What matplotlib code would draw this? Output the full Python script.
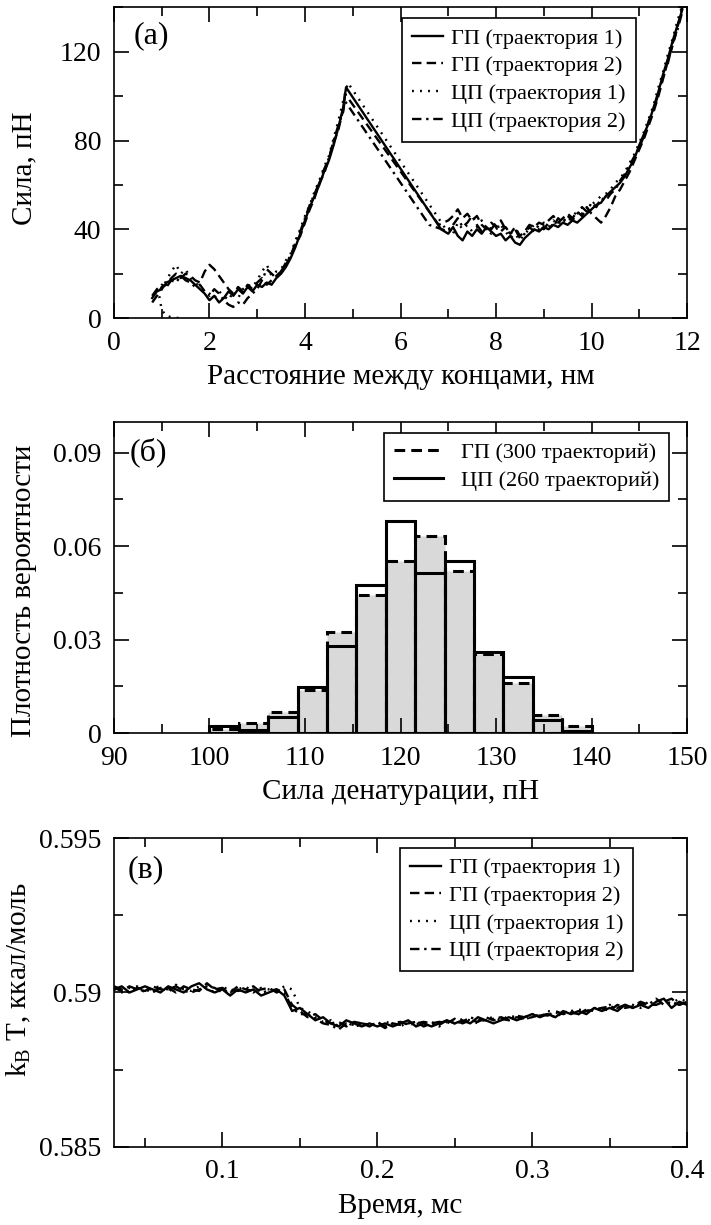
import matplotlib
matplotlib.use('Agg')
import matplotlib.pyplot as plt
from matplotlib.lines import Line2D
from matplotlib.ticker import MultipleLocator, FormatStrFormatter
import numpy as np

plt.rcParams['font.family'] = ['Liberation Serif', 'DejaVu Serif']
plt.rcParams['mathtext.fontset'] = 'custom'
plt.rcParams['mathtext.rm'] = 'Liberation Serif'
plt.rcParams['mathtext.it'] = 'Liberation Serif:italic'

# ---------- panel (a): force vs end-to-end distance ----------
x_pre = [0.8, 0.9, 1.0, 1.1, 1.2, 1.3, 1.4, 1.5, 1.6, 1.7, 1.8, 1.9, 2.0, 2.1,
         2.2, 2.3, 2.4, 2.5, 2.6, 2.7, 2.8, 2.9, 3.0, 3.1, 3.2, 3.3, 3.4, 3.5,
         3.6, 3.7, 3.8, 3.9, 4.0, 4.1, 4.2, 4.3, 4.4, 4.5, 4.6, 4.7, 4.8]
x_post = [7.0, 7.1, 7.2, 7.3, 7.4, 7.5, 7.6, 7.7, 7.8, 7.9,
          8.0, 8.1, 8.2, 8.3, 8.4, 8.5, 8.6, 8.7, 8.8, 8.9,
          9.0, 9.1, 9.2, 9.3, 9.4, 9.5, 9.6, 9.7, 9.8, 9.9,
          10.0, 10.1, 10.2, 10.3, 10.4, 10.5, 10.6, 10.7, 10.8, 10.9,
          11.0, 11.1, 11.2, 11.3, 11.4, 11.5, 11.6, 11.7, 11.8, 11.9]

gp1_pre = [9, 12, 13, 16, 17, 18, 19, 18, 17, 15, 13, 11, 8, 10, 7, 9, 12, 10, 13, 11,
           14, 12, 15, 14, 16, 15, 18, 20, 23, 27, 32, 38, 44, 50, 55, 60, 66, 71, 78, 86, 95]
gp1_peak = (4.86, 104)
gp1_land = (6.85, 40)
gp1_post = [38, 41, 37, 35, 39, 37, 40, 38, 41, 39,
            37, 38, 35, 37, 34, 33, 36, 38, 40, 39,
            41, 40, 42, 41, 43, 42, 44, 43, 45, 47,
            49, 51, 52, 55, 57, 59, 61, 64, 68, 72,
            78, 83, 88, 95, 102, 110, 117, 125, 132, 139]

gp2_pre = [7, 10, 14, 15, 18, 20, 18, 20, 19, 17, 16, 21, 24, 22, 19, 16, 13, 11, 14, 12,
           15, 13, 16, 18, 15, 17, 19, 21, 24, 28, 33, 37, 43, 49, 54, 61, 65, 72, 79, 85, 94]
gp2_peak = (4.84, 101)
gp2_land = (6.8, 42)
gp2_post = [44, 46, 49, 45, 47, 44, 46, 42, 40, 43,
            41, 44, 40, 38, 41, 37, 39, 42, 41, 43,
            42, 44, 46, 43, 45, 47, 45, 48, 46, 50,
            47, 45, 43, 46, 50, 55, 58, 62, 66, 71,
            76, 81, 87, 93, 100, 108, 116, 123, 131, 140]

cp1_head_x = [1.35, 1.22, 1.08, 1.0, 0.95]
cp1_head_y = [0, 0.3, 1, 4, 9]
cp1_pre = [np.nan, np.nan, 13, 17, 21, 24, 20, 22, 18, 16, 14, 12, 11, 9, 12, 10, 8, 12, 9, 13,
           15, 14, 17, 21, 24, 19, 21, 22, 26, 29, 35, 40, 46, 51, 57, 62, 68, 73, 81, 89, 98]
cp1_peak = (4.9, 106)
cp1_land = (6.95, 40)
cp1_post = [41, 38, 43, 40, 42, 39, 41, 44, 40, 38,
            40, 42, 39, 36, 38, 35, 38, 40, 42, 40,
            43, 41, 44, 42, 45, 43, 46, 48, 47, 49,
            51, 53, 55, 56, 58, 61, 63, 66, 70, 74,
            79, 84, 90, 96, 104, 111, 119, 126, 134, 141]

cp2_pre = [10, 13, 15, 14, 17, 16, 19, 17, 16, 14, 15, 12, 10, 13, 11, 8, 6, 5, 7, 6,
           9, 11, 13, 17, 22, 20, 18, 21, 25, 28, 34, 39, 45, 51, 56, 61, 67, 72, 80, 87, 93]
cp2_peak = (4.83, 98)
cp2_land = (6.6, 42)
cp2_post = [39, 42, 45, 41, 43, 46, 42, 39, 42, 40,
            43, 39, 41, 38, 40, 36, 38, 41, 39, 42,
            40, 43, 41, 45, 43, 46, 44, 47, 50, 48,
            52, 50, 54, 53, 56, 58, 62, 65, 69, 73,
            77, 82, 89, 94, 101, 109, 115, 124, 130, 138]

# ---------- panel (б): histograms of denaturation force ----------
bin_edges = [100.0, 103.08, 106.15, 109.23, 112.31, 115.38, 118.46,
             121.54, 124.62, 127.69, 130.77, 133.85, 136.92, 140.0]
hist_gp = [0.0012, 0.0033, 0.0069, 0.0139, 0.0325, 0.0442, 0.0553,
           0.0633, 0.0520, 0.0253, 0.0160, 0.0058, 0.0023]
hist_cp = [0.0022, 0.0010, 0.0050, 0.0147, 0.0280, 0.0475, 0.0681,
           0.0513, 0.0553, 0.0260, 0.0180, 0.0042, 0.0008]

# ---------- panel (в): kBT vs time ----------
t_ms = [0.030, 0.035, 0.040, 0.045, 0.050, 0.055, 0.060, 0.065, 0.070, 0.075,
        0.080, 0.085, 0.090, 0.095, 0.100, 0.105, 0.110, 0.115, 0.120, 0.125,
        0.130, 0.135, 0.140, 0.145, 0.150, 0.155, 0.160, 0.165, 0.170, 0.175,
        0.180, 0.185, 0.190, 0.195, 0.200, 0.205, 0.210, 0.215, 0.220, 0.225,
        0.230, 0.235, 0.240, 0.245, 0.250, 0.255, 0.260, 0.265, 0.270, 0.275,
        0.280, 0.285, 0.290, 0.295, 0.300, 0.305, 0.310, 0.315, 0.320, 0.325,
        0.330, 0.335, 0.340, 0.345, 0.350, 0.355, 0.360, 0.365, 0.370, 0.375,
        0.380, 0.385, 0.390, 0.395, 0.400]
kt_gp1 = [0.5901, 0.5902, 0.5900, 0.5901, 0.5902, 0.5901, 0.5900, 0.5902, 0.5901, 0.5900,
          0.5902, 0.5903, 0.5901, 0.5900, 0.5901, 0.5899, 0.5901, 0.5900, 0.5901, 0.5899,
          0.5900, 0.5901, 0.5899, 0.5894, 0.5895, 0.5893, 0.5891, 0.5892, 0.5890, 0.5889,
          0.5891, 0.5890, 0.5889, 0.5890, 0.5889, 0.5890, 0.5889, 0.5890, 0.5891, 0.5889,
          0.5890, 0.5889, 0.5890, 0.5891, 0.5890, 0.5891, 0.5890, 0.5892, 0.5891, 0.5890,
          0.5891, 0.5892, 0.5891, 0.5892, 0.5893, 0.5892, 0.5893, 0.5892, 0.5894, 0.5893,
          0.5894, 0.5893, 0.5895, 0.5894, 0.5895, 0.5894, 0.5896, 0.5895, 0.5896, 0.5895,
          0.5897, 0.5898, 0.5895, 0.5897, 0.5896]
kt_gp2 = [0.59015, 0.59005, 0.5902, 0.5901, 0.59005, 0.5902, 0.5901, 0.59015, 0.5900, 0.5902,
          0.5901, 0.59005, 0.5903, 0.5901, 0.59015, 0.5900, 0.5902, 0.5901, 0.59005, 0.5901,
          0.59015, 0.5900, 0.5901, 0.5896, 0.5894, 0.5892, 0.5893, 0.5891, 0.5890, 0.58905,
          0.5889, 0.58905, 0.5890, 0.5889, 0.58905, 0.5889, 0.5890, 0.58895, 0.5890, 0.58905,
          0.5889, 0.5890, 0.58905, 0.5890, 0.58915, 0.5890, 0.5891, 0.58905, 0.5892, 0.5891,
          0.58915, 0.5891, 0.5892, 0.58915, 0.5892, 0.5893, 0.58925, 0.5894, 0.5893, 0.58935,
          0.5893, 0.5894, 0.58945, 0.5895, 0.5894, 0.5896, 0.5895, 0.58955, 0.5897, 0.5896,
          0.5896, 0.5897, 0.5898, 0.5896, 0.5897]
kt_cp1 = [0.5901, 0.5900, 0.59015, 0.5902, 0.5900, 0.59015, 0.5902, 0.5900, 0.59025, 0.5901,
          0.59005, 0.5902, 0.59015, 0.5900, 0.5902, 0.59005, 0.5901, 0.5902, 0.5900, 0.59015,
          0.5901, 0.59005, 0.5902, 0.5901, 0.5895, 0.5894, 0.5892, 0.58905, 0.5891, 0.5889,
          0.58905, 0.5889, 0.58895, 0.5890, 0.5889, 0.58905, 0.5890, 0.5889, 0.58905, 0.5890,
          0.58895, 0.58905, 0.5889, 0.58905, 0.5890, 0.58915, 0.5891, 0.5890, 0.58915, 0.5892,
          0.5891, 0.58925, 0.5892, 0.5891, 0.58925, 0.5892, 0.5894, 0.58935, 0.5893, 0.5894,
          0.58945, 0.5894, 0.5895, 0.58945, 0.5896, 0.5895, 0.58955, 0.5896, 0.5895, 0.5897,
          0.5896, 0.5897, 0.58965, 0.5898, 0.5897]
kt_cp2 = [0.5902, 0.5901, 0.5900, 0.59015, 0.5901, 0.5900, 0.59015, 0.5901, 0.5902, 0.59005,
          0.5900, 0.5901, 0.5902, 0.59015, 0.5900, 0.5901, 0.59005, 0.5901, 0.5902, 0.5900,
          0.59005, 0.5901, 0.5900, 0.5895, 0.5893, 0.5893, 0.58915, 0.5890, 0.58895, 0.5888,
          0.5890, 0.58895, 0.5890, 0.58895, 0.5890, 0.58885, 0.5890, 0.58905, 0.58895, 0.5890,
          0.58905, 0.5890, 0.58895, 0.5891, 0.5890, 0.58905, 0.5892, 0.5891, 0.5891, 0.58915,
          0.5892, 0.5891, 0.58925, 0.5892, 0.5893, 0.58925, 0.5893, 0.5892, 0.58935, 0.5894,
          0.5893, 0.58945, 0.5894, 0.5895, 0.58955, 0.5895, 0.5896, 0.5895, 0.58965, 0.5896,
          0.5898, 0.5896, 0.5897, 0.5896, 0.5897]

traj_labels = ['ГП (траектория 1)', 'ГП (траектория 2)',
               'ЦП (траектория 1)', 'ЦП (траектория 2)']
styles = ['-', (0, (4, 2.2)), (0, (0.8, 2.6)), (0, (4, 2, 1, 2))]

fig = plt.figure(figsize=(7.11, 12.25), dpi=100)
ax_a = fig.add_axes([0.1603, 0.7404, 0.806, 0.2535])
ax_b = fig.add_axes([0.1603, 0.4016, 0.806, 0.2542])
ax_c = fig.add_axes([0.1603, 0.0637, 0.806, 0.2522])


def style_axes(ax):
    for s in ax.spines.values():
        s.set_linewidth(1.2)
    ax.tick_params(which='both', direction='in', top=True, right=True,
                   labelsize=20, width=1.2, pad=9)
    ax.tick_params(which='major', length=11)
    ax.tick_params(which='minor', length=6.5)


def join(pre, peak, land, post, head_x=None, head_y=None):
    xs = list(x_pre) + [peak[0], land[0]] + list(x_post)
    ys = list(pre) + [peak[1], land[1]] + list(post)
    if head_x is not None:
        xs = list(head_x) + xs
        ys = list(head_y) + ys
    xs = np.array(xs, dtype=float)
    ys = np.array(ys, dtype=float)
    m = ~np.isnan(ys)
    return xs[m], ys[m]


def add_legend(ax, handles, labels, anchor, hl, htp):
    leg = ax.legend(handles, labels, loc='upper left', bbox_to_anchor=anchor,
                    borderaxespad=0, fontsize=16, fancybox=False, edgecolor='k',
                    framealpha=1, handlelength=hl, handletextpad=htp,
                    labelspacing=0.32, borderpad=0.45)
    leg.get_frame().set_linewidth(1.2)
    return leg


# (a)
traces_a = [join(gp1_pre, gp1_peak, gp1_land, gp1_post),
            join(gp2_pre, gp2_peak, gp2_land, gp2_post),
            join(cp1_pre, cp1_peak, cp1_land, cp1_post, cp1_head_x, cp1_head_y),
            join(cp2_pre, cp2_peak, cp2_land, cp2_post)]
lines_a = []
for (xs, ys), ls, lab in zip(traces_a, styles, traj_labels):
    ln, = ax_a.plot(xs, ys, color='k', lw=1.7, linestyle=ls, label=lab)
    lines_a.append(ln)
ax_a.set_xlim(0, 12)
ax_a.set_ylim(0, 140)
ax_a.xaxis.set_major_locator(MultipleLocator(2))
ax_a.xaxis.set_minor_locator(MultipleLocator(1))
ax_a.yaxis.set_major_locator(MultipleLocator(40))
ax_a.yaxis.set_minor_locator(MultipleLocator(20))
style_axes(ax_a)
ax_a.set_xlabel('Расстояние между концами, нм', fontsize=21, labelpad=6)
ax_a.set_ylabel('Сила, пН', fontsize=21)
ax_a.yaxis.set_label_coords(-0.134, 0.483)
ax_a.text(0.035, 0.955, '(а)', transform=ax_a.transAxes, fontsize=23, va='top')
add_legend(ax_a, lines_a, traj_labels, (0.503, 0.966), 1.4, 0.35)

# (б)
edges = np.array(bin_edges)
widths = np.diff(edges)
ax_b.bar(edges[:-1], hist_gp, width=widths, align='edge', color='#d9d9d9',
         edgecolor='k', linewidth=2.2, linestyle=(0, (3.5, 2)))
ax_b.bar(edges[:-1], hist_cp, width=widths, align='edge', fill=False,
         edgecolor='k', linewidth=2.2)
ax_b.set_xlim(90, 150)
ax_b.set_ylim(0, 0.1)
ax_b.xaxis.set_major_locator(MultipleLocator(10))
ax_b.xaxis.set_minor_locator(MultipleLocator(5))
ax_b.yaxis.set_major_locator(MultipleLocator(0.03))
ax_b.yaxis.set_minor_locator(MultipleLocator(0.015))
ax_b.yaxis.set_major_formatter(FormatStrFormatter('%g'))
style_axes(ax_b)
ax_b.set_xlabel('Сила денатурации, пН', fontsize=21, labelpad=6)
ax_b.set_ylabel('Плотность вероятности', fontsize=21)
ax_b.yaxis.set_label_coords(-0.134, 0.456)
ax_b.text(0.028, 0.95, '(б)', transform=ax_b.transAxes, fontsize=23, va='top')
hist_handles = [Line2D([], [], color='k', lw=2.2, linestyle=(0, (3.5, 2))),
                Line2D([], [], color='k', lw=2.2)]
add_legend(ax_b, hist_handles, ['ГП (300 траекторий)', 'ЦП (260 траекторий)'],
           (0.471, 0.965), 2.2, 0.8)

# (в)
lines_c = []
for ys, ls, lab in zip([kt_gp1, kt_gp2, kt_cp1, kt_cp2], styles, traj_labels):
    ln, = ax_c.plot(t_ms, ys, color='k', lw=1.7, linestyle=ls, label=lab)
    lines_c.append(ln)
ax_c.set_xlim(0.03, 0.4)
ax_c.set_ylim(0.585, 0.595)
ax_c.xaxis.set_major_locator(MultipleLocator(0.1))
ax_c.xaxis.set_minor_locator(MultipleLocator(0.05))
ax_c.yaxis.set_major_locator(MultipleLocator(0.005))
ax_c.yaxis.set_minor_locator(MultipleLocator(0.0025))
ax_c.xaxis.set_major_formatter(FormatStrFormatter('%g'))
ax_c.yaxis.set_major_formatter(FormatStrFormatter('%g'))
style_axes(ax_c)
ax_c.set_xlabel('Время, мс', fontsize=21, labelpad=6)
ax_c.set_ylabel(r'k$_\mathrm{B}$ T, ккал/моль', fontsize=21)
ax_c.yaxis.set_label_coords(-0.141, 0.54)
ax_c.text(0.024, 0.945, '(в)', transform=ax_c.transAxes, fontsize=23, va='top')
add_legend(ax_c, lines_c, traj_labels, (0.499, 0.968), 1.4, 0.35)

fig.savefig('out.png', dpi=100)
